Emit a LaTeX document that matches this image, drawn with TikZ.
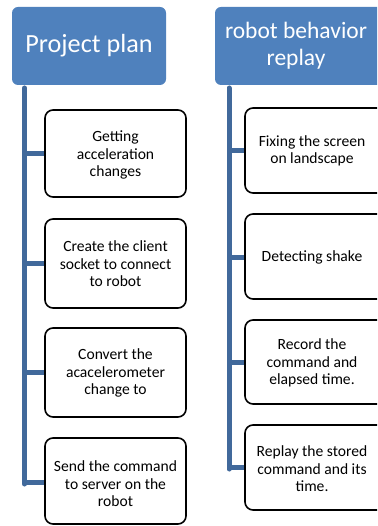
\documentclass[tikz,border=0pt]{standalone}
\usepackage{fontspec}
\setmainfont{Carlito}
\begin{document}
\begin{tikzpicture}[x=1pt,y=-1pt,
  header/.style={fill=hdrblue, rounded corners=6pt},
  htext/.style={text=white, align=center, inner sep=0pt},
  taskbox/.style={draw=black, line width=1.6pt, fill=white, rounded corners=8pt},
  ttext/.style={align=center, inner sep=0pt, font=\fontsize{15.6}{17.5}\selectfont},
  spine/.style={draw=barblue, line width=5pt},
  branch/.style={draw=barblue, line width=5pt}
]
\definecolor{hdrblue}{HTML}{4F81BD}
\definecolor{barblue}{HTML}{41699B}
\useasboundingbox (0,0) rectangle (377,526);
\begin{scope}
\clip (0,0) rectangle (377,526);
% headers
\path[header] (12,7) rectangle (166,85);
\node[htext, font=\fontsize{26.2}{30}\selectfont] (h1) at (89,46) {Project plan};
\path[header] (215,7) rectangle (383,85);
\node[htext, font=\fontsize{23.5}{27}\selectfont] (h2) at (296,46) {robot behavior\\replay};
% left column
\coordinate (l0) at (24.5,88);
\coordinate (l1) at (24.5,154);
\coordinate (l2) at (24.5,263);
\coordinate (l3) at (24.5,372);
\coordinate (l4) at (24.5,482);
\draw[spine, line cap=round] (l0) -- (24.5,484);
\draw[branch] (l1) -- (45,154);
\draw[branch] (l2) -- (45,263);
\draw[branch] (l3) -- (45,372);
\draw[branch] (l4) -- (45,482);
\path[taskbox] (45,110) rectangle (186,197);
\node[ttext] (a1) at (115.5,155) {Getting\\acceleration\\changes};
\path[taskbox] (45,219) rectangle (186,308);
\node[ttext] (a2) at (115.5,264) {Create the client\\socket to connect\\to robot};
\path[taskbox] (45,328) rectangle (186,417);
\node[ttext] (a3) at (115.5,373) {Convert the\\acacelerometer\\change to};
\path[taskbox] (45,438) rectangle (186,524);
\node[ttext] (a4) at (115.5,484) {Send the command\\to server on the\\robot};
% right column
\coordinate (r0) at (229,88);
\coordinate (r1) at (229,151);
\coordinate (r2) at (229,257);
\coordinate (r3) at (229,362);
\coordinate (r4) at (229,467);
\draw[spine, line cap=round] (r0) -- (229,469);
\draw[branch] (r1) -- (245,151);
\draw[branch] (r2) -- (245,257);
\draw[branch] (r3) -- (245,362);
\draw[branch] (r4) -- (245,467);
\path[taskbox] (245,108) rectangle (390,193);
\node[ttext] (b1) at (312,151) {Fixing the screen\\on landscape};
\path[taskbox] (245,214) rectangle (390,299);
\node[ttext] (b2) at (312,257) {Detecting shake};
\path[taskbox] (245,320) rectangle (390,404);
\node[ttext] (b3) at (312,363) {Record the\\command and\\elapsed time.};
\path[taskbox] (245,425) rectangle (390,510);
\node[ttext] (b4) at (312,469) {Replay the stored\\command and its\\time.};
\end{scope}
\end{tikzpicture}
\end{document}
